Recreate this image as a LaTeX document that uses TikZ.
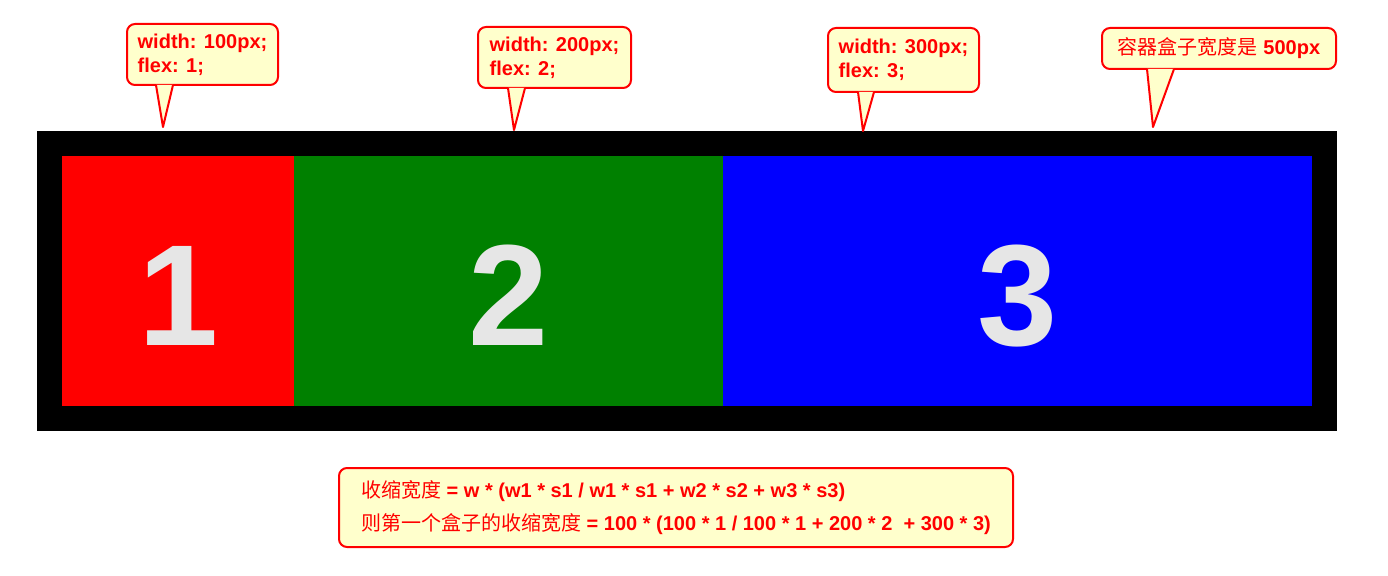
\documentclass[tikz,border=0pt]{standalone}
\usepackage{fontspec}
\setmainfont{Liberation Sans}
\newfontfamily\cjk{Noto Sans CJK SC}
\usetikzlibrary{positioning}
\definecolor{itemred}{RGB}{255,0,0}
\definecolor{itemgreen}{RGB}{0,128,0}
\definecolor{itemblue}{RGB}{0,0,255}
\definecolor{tipyellow}{RGB}{255,255,204}
\definecolor{numgrey}{RGB}{230,230,230}
\newcommand{\zh}[1]{{\mdseries\cjk #1}}

\begin{document}
\begin{tikzpicture}[x=1pt, y=-1pt,
    flexitem/.style={rectangle, inner sep=0pt, outer sep=0pt, minimum height=250pt},
    itemnum/.style={text=numgrey, font=\fontsize{144}{144}\selectfont\bfseries,
        inner sep=0pt, anchor=base},
    bubble/.style={rectangle, draw=red, fill=tipyellow, line width=2pt,
        rounded corners=8pt, text=red, align=left, inner sep=0pt,
        anchor=north west, font=\fontsize{20}{24}\selectfont\bfseries},
    pointer/.style={draw=red, fill=tipyellow, line width=2pt, line join=round}
]
\useasboundingbox (0,0) rectangle (1388,575);

% flex container
\node[fill=black, minimum width=1300pt, minimum height=300pt, inner sep=0pt,
      anchor=north west] (box) at (37,131) {};

\node[flexitem, fill=itemred, minimum width=232.5pt, anchor=north west] (item1) at (62,156) {};
\node[flexitem, fill=itemgreen, minimum width=429.5pt, right=-0.5pt of item1] (item2) {};
\node[flexitem, fill=itemblue, minimum width=589pt, right=-0.5pt of item2] (item3) {};

\node[itemnum] (num1) at ([yshift=61pt]item1.south) {1};
\node[itemnum] (num2) at ([yshift=61pt]item2.south) {2};
\node[itemnum] (num3) at ([yshift=61pt]item3.south) {3};

% callouts
\coordinate (tip1) at (163,127);
\coordinate (tip2) at (514,130);
\coordinate (tip3) at (863,131);
\coordinate (tip4) at (1153,127);

\node[bubble, minimum width=151pt, minimum height=61pt] (c1) at (126,23) {width: 100px;\\flex: 1;};
\draw[pointer] ([xshift=30pt,yshift=1pt]c1.south west) -- (tip1) -- ([xshift=47pt,yshift=1pt]c1.south west);

\node[bubble, minimum width=153pt, minimum height=61pt] (c2) at (477,26) {width: 200px;\\flex: 2;};
\draw[pointer] ([xshift=31pt,yshift=1pt]c2.south west) -- (tip2) -- ([xshift=48pt,yshift=1pt]c2.south west);

\node[bubble, minimum width=151pt, minimum height=64pt] (c3) at (827,27) {width: 300px;\\flex: 3;};
\draw[pointer] ([xshift=31pt,yshift=1pt]c3.south west) -- (tip3) -- ([xshift=47pt,yshift=1pt]c3.south west);

\node[bubble, minimum width=234pt, minimum height=41pt] (c4) at (1101,27) {\zh{容器盒子宽度是} 500px};
\draw[pointer] ([xshift=46pt,yshift=1pt]c4.south west) -- (tip4) -- ([xshift=73pt,yshift=1pt]c4.south west);

% formula
\node[bubble, minimum width=674pt, minimum height=79pt, font=\fontsize{20}{33}\selectfont\bfseries]
    (formula) at (338,467)
    {\zh{收缩宽度} = w * (w1 * s1 / w1 * s1 + w2 * s2 + w3 * s3)\\
     \zh{则第一个盒子的收缩宽度} = 100 * (100 * 1 / 100 * 1 + 200 * 2~ + 300 * 3)};
\end{tikzpicture}
\end{document}
